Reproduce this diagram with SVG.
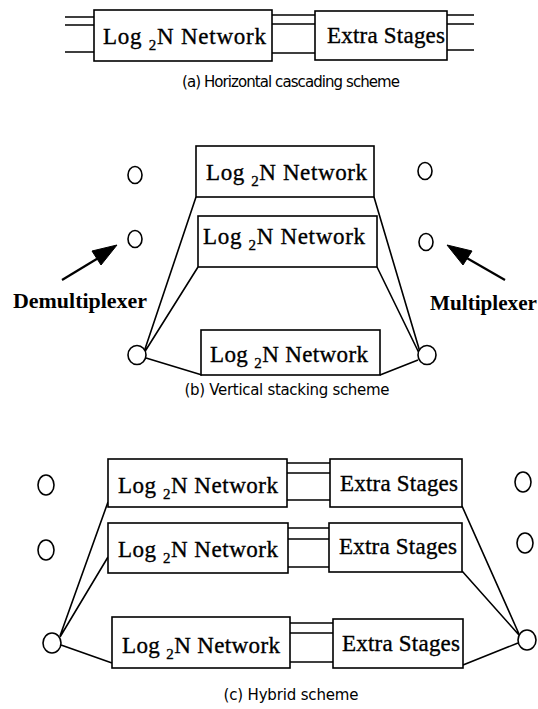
<svg xmlns="http://www.w3.org/2000/svg" width="538" height="709" viewBox="0 0 538 709">
<style>
.box{fill:#fff;stroke:#000;stroke-width:1.6}
.ln{fill:none;stroke:#000;stroke-width:1.6}
.c{fill:#fff;stroke:#000;stroke-width:1.6}
.t{font-family:"Liberation Serif",serif;font-size:23px;fill:#000;stroke:#000;stroke-width:0.35}
.sub{font-size:15px}
.lab{font-family:"Liberation Serif",serif;font-size:20px;font-weight:bold;fill:#000}
.cap{font-family:"DejaVu Sans",sans-serif;font-size:15px;fill:#000}
.ah{fill:#000;stroke:#000;stroke-width:1;stroke-linejoin:round}
</style>
<g id="connectors">
<!-- (a) -->
<path class="ln" d="M65,17H94M65,25H94M65,52H94"/>
<path class="ln" d="M272,15H315M272,24H315M272,53H315"/>
<path class="ln" d="M447,15H474M447,24H474M447,50H474"/>
<!-- (b) -->
<path class="ln" d="M144,352L196,197M144,353L198,267M146,358L202,375"/>
<path class="ln" d="M374,197L420,352M377,267L419,353M380,375L418,360"/>
<path class="ln" d="M62,280L100,257" style="stroke-width:2.2"/>
<polygon class="ah" points="117,245 92,251 101,265"/>
<path class="ln" d="M505,280L465,257" style="stroke-width:2.2"/>
<polygon class="ah" points="447,245 472,251 463,265"/>
<!-- (c) -->
<path class="ln" d="M287,463H330M287,473H330M287,500H330"/>
<path class="ln" d="M288,528H329M288,539H329M288,567H329"/>
<path class="ln" d="M290,623H333M290,633H333M290,662H333"/>
<path class="ln" d="M60,636L108,502M60,637L108,557M61,645L112,663"/>
<path class="ln" d="M462,506L519,634M462,571L519,635M463,665L518,643"/>
</g>
<g id="a-log">
<rect class="box" x="94" y="10" width="178" height="51"/>
<text class="t" x="103" y="44" textLength="163" lengthAdjust="spacing">Log <tspan class="sub" dy="6">2</tspan><tspan dy="-6">N Network</tspan></text>
</g>
<g id="a-extra">
<rect class="box" x="315" y="11" width="132" height="49"/>
<text class="t" x="327" y="43" textLength="118" lengthAdjust="spacing">Extra Stages</text>
</g>
<text class="cap" x="291" y="87" text-anchor="middle" textLength="218" lengthAdjust="spacing">(a) Horizontal cascading scheme</text>
<g id="b-net1">
<rect class="box" x="196" y="146" width="178" height="51"/>
<text class="t" x="206" y="180" textLength="161" lengthAdjust="spacing">Log <tspan class="sub" dy="6">2</tspan><tspan dy="-6">N Network</tspan></text>
</g>
<g id="b-net2">
<rect class="box" x="198" y="216" width="179" height="51"/>
<text class="t" x="203" y="244" textLength="162" lengthAdjust="spacing">Log <tspan class="sub" dy="6">2</tspan><tspan dy="-6">N Network</tspan></text>
</g>
<g id="b-net3">
<rect class="box" x="201" y="330" width="179" height="45"/>
<text class="t" x="210" y="362" textLength="158" lengthAdjust="spacing">Log <tspan class="sub" dy="6">2</tspan><tspan dy="-6">N Network</tspan></text>
</g>
<g id="b-in1"><ellipse class="c" cx="135" cy="175" rx="7" ry="8.5"/></g>
<g id="b-in2"><ellipse class="c" cx="135" cy="239" rx="7" ry="8.5"/></g>
<g id="b-demux"><ellipse class="c" cx="137" cy="355" rx="9" ry="9.5"/></g>
<g id="b-out1"><ellipse class="c" cx="425" cy="171" rx="7" ry="8.5"/></g>
<g id="b-out2"><ellipse class="c" cx="426" cy="242" rx="7" ry="8.5"/></g>
<g id="b-mux"><ellipse class="c" cx="427" cy="355" rx="9" ry="9.5"/></g>
<g id="b-demux-label"><text class="lab" x="13" y="308" textLength="134" lengthAdjust="spacingAndGlyphs">Demultiplexer</text></g>
<g id="b-mux-label"><text class="lab" x="430" y="310" textLength="107" lengthAdjust="spacingAndGlyphs">Multiplexer</text></g>
<text class="cap" x="287" y="395" text-anchor="middle" textLength="205" lengthAdjust="spacing">(b) Vertical stacking scheme</text>
<g id="c-log1">
<rect class="box" x="108" y="459" width="179" height="48"/>
<text class="t" x="118" y="493" textLength="160" lengthAdjust="spacing">Log <tspan class="sub" dy="6">2</tspan><tspan dy="-6">N Network</tspan></text>
</g>
<g id="c-extra1">
<rect class="box" x="330" y="459" width="132" height="48"/>
<text class="t" x="340" y="491" textLength="118" lengthAdjust="spacing">Extra Stages</text>
</g>
<g id="c-log2">
<rect class="box" x="108" y="523" width="180" height="50"/>
<text class="t" x="118" y="557" textLength="160" lengthAdjust="spacing">Log <tspan class="sub" dy="6">2</tspan><tspan dy="-6">N Network</tspan></text>
</g>
<g id="c-extra2">
<rect class="box" x="329" y="523" width="133" height="49"/>
<text class="t" x="339" y="554" textLength="118" lengthAdjust="spacing">Extra Stages</text>
</g>
<g id="c-log3">
<rect class="box" x="112" y="617" width="178" height="51"/>
<text class="t" x="122" y="653" textLength="158" lengthAdjust="spacing">Log <tspan class="sub" dy="6">2</tspan><tspan dy="-6">N Network</tspan></text>
</g>
<g id="c-extra3">
<rect class="box" x="333" y="619" width="130" height="49"/>
<text class="t" x="342" y="651" textLength="118" lengthAdjust="spacing">Extra Stages</text>
</g>
<g id="c-in1"><ellipse class="c" cx="46" cy="485" rx="8" ry="10"/></g>
<g id="c-in2"><ellipse class="c" cx="46" cy="550" rx="8" ry="10"/></g>
<g id="c-demux"><ellipse class="c" cx="52" cy="643" rx="9" ry="10"/></g>
<g id="c-out1"><ellipse class="c" cx="523" cy="482" rx="8" ry="10"/></g>
<g id="c-out2"><ellipse class="c" cx="525" cy="543" rx="8" ry="10"/></g>
<g id="c-mux"><ellipse class="c" cx="527" cy="640" rx="9" ry="10"/></g>
<text class="cap" x="291" y="700" text-anchor="middle" textLength="135" lengthAdjust="spacing">(c) Hybrid scheme</text>
</svg>
